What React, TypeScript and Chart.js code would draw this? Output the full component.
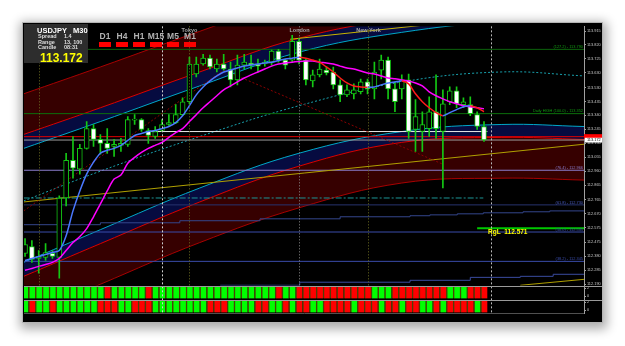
import React, { useEffect, useRef } from 'react';
import { Chart, registerables } from 'chart.js';

Chart.register(...registerables);

// ---------------- data ----------------
const symbol = 'USDJPY';
const timeframe = 'M30';
const infoLabels = ['Spread', 'Range', 'Candle'];
const infoValues = ['1.4', '13, 100', '08:31'];
const lastPrice = '113.172';
const tfNames = ['D1', 'H4', 'H1', 'M15', 'M5', 'M1'];

const opens = [
  112.399, 112.446, 112.365, 112.372, 112.399, 112.372, 112.777, 113.034, 112.973, 113.115,
  113.250, 113.176, 113.149, 113.129, 113.136, 113.142, 113.308, 113.311, 113.237, 113.196,
  113.237, 113.278, 113.291, 113.345, 113.433, 113.622, 113.690, 113.730, 113.656, 113.690,
  113.656, 113.582, 113.683, 113.697, 113.690, 113.690, 113.703, 113.778, 113.717, 113.717,
  113.845, 113.717, 113.575, 113.616, 113.649, 113.636, 113.548, 113.480, 113.487, 113.501,
  113.568, 113.521, 113.649, 113.717, 113.521, 113.521, 113.582, 113.244, 113.230, 113.250,
  113.365, 113.230, 113.433, 113.507, 113.413, 113.413, 113.345, 113.264,
];
const highs = [
  112.500, 112.487, 112.419, 112.466, 112.419, 112.791, 113.081, 113.196, 113.142, 113.298,
  113.278, 113.210, 113.250, 113.176, 113.183, 113.332, 113.345, 113.318, 113.250, 113.264,
  113.311, 113.345, 113.413, 113.460, 113.737, 113.737, 113.757, 113.751, 113.724, 113.757,
  113.703, 113.751, 113.757, 113.751, 113.724, 113.717, 113.785, 113.791, 113.724, 113.886,
  113.866, 113.724, 113.649, 113.724, 113.670, 113.670, 113.582, 113.548, 113.555, 113.588,
  113.588, 113.703, 113.751, 113.737, 113.568, 113.616, 113.622, 113.447, 113.365, 113.467,
  113.616, 113.514, 113.534, 113.534, 113.460, 113.467, 113.365, 113.298,
];
const lows = [
  112.378, 112.338, 112.264, 112.351, 112.365, 112.230, 112.723, 112.912, 112.940, 113.109,
  113.129, 113.075, 113.081, 113.061, 113.095, 113.129, 113.278, 113.230, 113.149, 113.183,
  113.230, 113.271, 113.284, 113.338, 113.419, 113.602, 113.683, 113.656, 113.636, 113.649,
  113.534, 113.548, 113.656, 113.656, 113.636, 113.676, 113.683, 113.703, 113.656, 113.703,
  113.690, 113.548, 113.534, 113.602, 113.616, 113.521, 113.433, 113.467, 113.453, 113.487,
  113.487, 113.453, 113.588, 113.453, 113.365, 113.453, 113.183, 113.095, 113.095, 113.196,
  113.183, 112.845, 113.413, 113.392, 113.392, 113.338, 113.244, 113.163,
];
const closes = [
  112.460, 112.358, 112.378, 112.405, 112.378, 112.777, 113.034, 112.980, 113.115, 113.250,
  113.176, 113.149, 113.115, 113.142, 113.149, 113.311, 113.315, 113.244, 113.203, 113.230,
  113.278, 113.291, 113.345, 113.433, 113.690, 113.690, 113.730, 113.670, 113.690, 113.656,
  113.582, 113.683, 113.703, 113.683, 113.676, 113.703, 113.778, 113.717, 113.683, 113.845,
  113.717, 113.582, 113.616, 113.656, 113.629, 113.548, 113.480, 113.514, 113.514, 113.568,
  113.521, 113.636, 113.717, 113.521, 113.433, 113.582, 113.230, 113.332, 113.278, 113.365,
  113.250, 113.419, 113.507, 113.419, 113.433, 113.352, 113.264, 113.172,
];

const fastMA = [
  112.351, 112.365, 112.378, 112.392, 112.406, 112.419, 112.520, 112.689, 112.825, 112.940,
  113.021, 113.082, 113.102, 113.115, 113.136, 113.169, 113.203, 113.217, 113.230, 113.237,
  113.250, 113.264, 113.291, 113.338, 113.406, 113.480, 113.534, 113.575, 113.609, 113.636,
  113.649, 113.663, 113.676, 113.683, 113.690, 113.697, 113.703, 113.714, 113.724, 113.730,
  113.737, 113.730, 113.717, 113.703, 113.670, 113.636, 113.595, 113.561, 113.541, 113.534,
  113.531, 113.534, 113.548, 113.561, 113.568, 113.575, 113.555, 113.487, 113.433, 113.392,
  113.359, 113.338, 113.359, 113.379, 113.399, 113.406, 113.392, 113.365,
];
const slowMA = [
  112.284, 112.297, 112.311, 112.324, 112.338, 112.365, 112.419, 112.473, 112.514, 112.568,
  112.649, 112.737, 112.825, 112.906, 112.933, 113.014, 113.054, 113.088, 113.115, 113.136,
  113.156, 113.190, 113.223, 113.250, 113.298, 113.345, 113.392, 113.433, 113.474, 113.514,
  113.541, 113.568, 113.595, 113.616, 113.636, 113.656, 113.676, 113.690, 113.697, 113.703,
  113.707, 113.710, 113.710, 113.703, 113.697, 113.690, 113.676, 113.663, 113.656, 113.643,
  113.629, 113.622, 113.609, 113.595, 113.589, 113.582, 113.575, 113.561, 113.541, 113.501,
  113.474, 113.453, 113.433, 113.420, 113.406, 113.399, 113.392, 113.386,
];

// 1 = green, 0 = red
const pane1State = [
  1, 1, 1, 1, 1, 1, 1, 1, 1, 1, 1, 1, 0, 1, 1, 1, 1, 1, 0, 1,
  1, 1, 1, 1, 1, 1, 1, 1, 1, 1, 1, 1, 1, 1, 1, 1, 1, 0, 1, 1,
  0, 0, 0, 0, 0, 0, 0, 0, 0, 0, 0, 1, 1, 1, 0, 0, 0, 0, 0, 0,
  0, 0, 1, 1, 1, 0, 0, 0,
];
const pane2State = [
  1, 0, 1, 1, 0, 1, 1, 1, 1, 1, 1, 0, 0, 0, 1, 1, 0, 0, 0, 1,
  1, 1, 1, 1, 1, 1, 1, 0, 0, 0, 1, 1, 1, 1, 0, 0, 1, 1, 0, 1,
  0, 0, 1, 1, 0, 0, 0, 0, 1, 0, 0, 0, 1, 0, 0, 1, 0, 0, 1, 1,
  0, 1, 0, 0, 0, 0, 1, 0,
];
const paneBarLow = -0.6;
const paneBarHigh = 2.4;
const paneTicks = [2, 0];

const timeTickIdx = [0, 4, 8, 12, 16, 20, 24, 28, 32, 36, 40, 44, 48, 52, 56, 60, 64];
const timeLabels = [
  '9 Feb 2017', '9 Feb 16:00', '9 Feb 18:00', '9 Feb 20:00', '9 Feb 22:00',
  '10 Feb 00:00', '10 Feb 02:00', '10 Feb 04:00', '10 Feb 06:00', '10 Feb 08:00',
  '10 Feb 10:00', '10 Feb 12:00', '10 Feb 14:00', '10 Feb 16:00', '10 Feb 18:00',
  '10 Feb 20:00', '10 Feb 22:00',
];
const priceTicks = [
  113.915, 113.820, 113.725, 113.630, 113.530, 113.435, 113.340, 113.245, 113.150, 113.055,
  112.960, 112.865, 112.765, 112.670, 112.575, 112.475, 112.380, 112.285, 112.190,
];

// regression channels (knots)
const chIdx = [-0.2, 11, 25.5, 40, 55, 69.5, 81.7];
const chA = [113.487, 113.670, 113.913, 114.143, 114.278, 114.346, 114.332];
const chB = [113.210, 113.392, 113.636, 113.866, 114.001, 114.068, 114.055];
const chC = [113.115, 113.298, 113.541, 113.771, 113.906, 113.974, 113.960];
const chM = [112.757, 112.960, 113.196, 113.406, 113.568, 113.636, 113.609];
const chD = [112.338, 112.561, 112.845, 113.082, 113.230, 113.278, 113.264];
const chE = [112.243, 112.466, 112.750, 112.994, 113.156, 113.190, 113.176];
const chF = [111.966, 112.189, 112.473, 112.710, 112.879, 112.912, 112.899];

// fibo levels
const fibLevels = [113.790, 113.352, 112.966, 112.730, 112.545, 112.345];
const fibLabels = [
  '(127.2) - 113.790', 'Daily HIGH (100.0) - 113.352', '(76.4) - 112.966',
  '(61.8) - 112.730', '(50.0) - 112.545', '(38.2) - 112.345',
];
const fibColors = ['#0c640c', '#0c6e0c', '#8a7ccc', '#27336e', '#3a4caa', '#3a4caa'];

const dayOpenLevel = 113.230;
const dayOpenRange = [18, 67.5];
const redLevel = 113.195;
const bidLevel = 113.172;
const tealLevel = 112.777;
const tealRange = [-0.2, 66.9];
const rglLevel = 112.571;
const rglRange = [66, 81.7];
const rglLabel = 'RgL  112.571';
const rglLabelIdx = 67.6;

const step1Idx = [-0.2, 11, 22.6, 34.3, 46, 56.2, 59.1, 63.1, 66.9, 72.7, 76.6, 81.7];
const step1Val = [112.595, 112.608, 112.622, 112.635, 112.649, 112.656, 112.662, 112.669, 112.676, 112.683, 112.689, 112.689];
const step2Idx = [28.5, 40.1, 56.2, 65, 72.3, 77.1, 81.7];
const step2Val = [112.182, 112.203, 112.216, 112.236, 112.243, 112.257, 112.257];
const yellowIdx = [-0.2, 81.7];
const yellowVal = [112.750, 113.144];
const yellowTopIdx = [38.7, 60.6];
const yellowTopVal = [113.859, 113.967];
const yellowBotIdx = [72.3, 81.7];
const yellowBotVal = [112.182, 112.223];
const zigIdx = [-0.2, 29, 61];
const zigVal = [112.689, 113.649, 113.007];

const sessionIdx = [2, 20, 24, 40, 50, 68];
const sessionNames = ['New York', '', 'Tokyo', 'London', 'New York', ''];
const sessionColors = ['#6e6e22', '#d0d0d0', '#6e6e22', '#8c8c8c', '#6e6e22', '#b8b8b8'];
const sessionDash = [[1, 2], [2, 2], [1, 2], [1, 2], [1, 2], [2, 2]];
const sessionFull = [false, true, false, false, false, true];

const X_MIN = -0.15;
const X_MAX = 81.6;
const Y_MIN = 112.179;
const Y_MAX = 113.947;
const PANE_MIN = -0.875;
const PANE_MAX = 2.625;
const FONT = '"Liberation Sans", Arial, sans-serif';

// ---------------- helpers ----------------
const candleGreen = '#14c814';
const maroon = '#360000';
const navy = '#060b40';
const idx = opens.map((_, i) => i);
const pts = (xs: number[], ys: number[]) => xs.map((x, k) => ({ x, y: ys[k] }));
const lineDs = (data: any[], color: string, extra: any = {}) => ({
  type: 'line',
  data,
  borderColor: color,
  borderWidth: 1,
  pointRadius: 0,
  fill: false,
  tension: 0,
  xAxisID: 'x',
  yAxisID: 'y',
  ...extra,
});
const hLine = (level: number, range: number[], color: string, extra: any = {}) =>
  lineDs(pts(range, [level, level]), color, extra);

const overlayPlugin = {
  id: 'mtOverlay',
  beforeDatasetDraw(chart: any, args: any) {
    const ds: any = chart.data.datasets[args.index];
    if (!ds.maskPanes) return;
    const { ctx, chartArea: a, scales } = chart;
    ctx.save();
    ctx.fillStyle = '#000000';
    ctx.fillRect(a.left, scales.y2.top, a.right - a.left, scales.y3.bottom - scales.y2.top);
    ctx.restore();
  },
  afterDatasetsDraw(chart: any) {
    const { ctx, chartArea: a, scales } = chart;
    const x = scales.x;
    const y = scales.y;
    ctx.save();
    sessionIdx.forEach((si, k) => {
      const px = Math.round(x.getPixelForValue(si)) + 0.5;
      ctx.strokeStyle = sessionColors[k];
      ctx.lineWidth = 1;
      ctx.setLineDash(sessionDash[k]);
      ctx.beginPath();
      ctx.moveTo(px, a.top);
      ctx.lineTo(px, sessionFull[k] ? a.bottom : y.bottom);
      ctx.stroke();
      if (sessionNames[k]) {
        ctx.setLineDash([]);
        ctx.fillStyle = '#a4a4a4';
        ctx.font = `bold 5.5px ${FONT}`;
        ctx.textAlign = 'center';
        ctx.textBaseline = 'top';
        ctx.fillText(sessionNames[k], px, a.top + 1.5);
      }
    });
    ctx.setLineDash([]);
    // fibo labels
    ctx.font = `3.9px ${FONT}`;
    ctx.textAlign = 'right';
    ctx.textBaseline = 'bottom';
    fibLevels.forEach((lv, k) => {
      ctx.fillStyle = k < 2 ? '#119a11' : fibColors[k] === '#27336e' ? '#4a5cc0' : fibColors[k];
      ctx.fillText(fibLabels[k], a.right - 1, y.getPixelForValue(lv) - 0.5);
    });
    // RgL label
    ctx.font = `bold 6.5px ${FONT}`;
    ctx.fillStyle = '#ffff00';
    ctx.textAlign = 'left';
    ctx.textBaseline = 'top';
    ctx.fillText(rglLabel, x.getPixelForValue(rglLabelIdx), y.getPixelForValue(rglLevel) + 1);
    ctx.restore();
  },
  afterDraw(chart: any) {
    const { ctx, chartArea: a, scales } = chart;
    const y = scales.y;
    ctx.save();
    ctx.strokeStyle = '#9a9a9a';
    ctx.lineWidth = 1;
    [y.bottom, scales.y2.bottom].forEach((yy: number) => {
      const py = Math.round(yy) + 0.5;
      ctx.beginPath();
      ctx.moveTo(a.left, py);
      ctx.lineTo(chart.width, py);
      ctx.stroke();
    });
    // price tags
    const yr = y.getPixelForValue(redLevel);
    ctx.fillStyle = '#ff0000';
    ctx.fillRect(a.right, yr - 2.5, chart.width - a.right, 4.5);
    const yb = y.getPixelForValue(bidLevel);
    ctx.fillStyle = '#ffffff';
    ctx.fillRect(a.right + 1, yb - 2.3, chart.width - a.right - 1, 4.8);
    ctx.fillStyle = '#000000';
    ctx.font = `3.9px ${FONT}`;
    ctx.textAlign = 'left';
    ctx.textBaseline = 'middle';
    ctx.fillText(lastPrice, a.right + 3, yb + 0.2);
    ctx.restore();
  },
};

export default function App() {
  const ref = useRef<HTMLCanvasElement>(null);

  useEffect(() => {
    if (!ref.current) return;
    Chart.defaults.font.family = FONT;
    const datasets: any[] = [
      // channels
      lineDs(pts(chIdx, chA), '#a80000', { fill: '+1', backgroundColor: maroon, tension: 0.4, order: 100 }),
      lineDs(pts(chIdx, chB), '#dc0000', { fill: '+1', backgroundColor: navy, tension: 0.4, order: 99 }),
      lineDs(pts(chIdx, chC), '#00a8c8', { tension: 0.4, order: 98 }),
      lineDs(pts(chIdx, chM), '#18a0ac', { tension: 0.4, borderDash: [2, 2], order: 97 }),
      lineDs(pts(chIdx, chD), '#00a8c8', { fill: '+1', backgroundColor: navy, tension: 0.4, order: 96 }),
      lineDs(pts(chIdx, chE), '#dc0000', { fill: '+1', backgroundColor: maroon, tension: 0.4, order: 95 }),
      lineDs(pts(chIdx, chF), '#a80000', { tension: 0.4, order: 94 }),
      // fibo + levels
      ...fibLevels.map((lv, k) => hLine(lv, [X_MIN - 0.1, X_MAX + 0.1], fibColors[k], { order: 80 - k })),
      hLine(dayOpenLevel, dayOpenRange, '#e8e8e8', { order: 70 }),
      hLine(redLevel, [X_MIN - 0.1, X_MAX + 0.1], '#e00000', { order: 69 }),
      hLine(bidLevel, [X_MIN - 0.1, X_MAX + 0.1], '#9c9c9c', { order: 68 }),
      hLine(tealLevel, tealRange, '#1c9494', { borderDash: [6, 2, 2, 2], order: 67 }),
      hLine(rglLevel, rglRange, '#00c800', { borderWidth: 2, order: 66 }),
      lineDs(pts(step1Idx, step1Val), '#34468c', { stepped: true, order: 65 }),
      lineDs(pts(step2Idx, step2Val), '#3a4ca0', { stepped: true, order: 64 }),
      lineDs(pts(yellowIdx, yellowVal), '#b0a000', { order: 63 }),
      lineDs(pts(yellowTopIdx, yellowTopVal), '#c8b400', { order: 62 }),
      lineDs(pts(yellowBotIdx, yellowBotVal), '#b0a000', { order: 61 }),
      lineDs(pts(zigIdx, zigVal), '#8a0000', { borderDash: [2, 2], order: 60 }),
      // candles
      {
        type: 'bar',
        data: idx.map((i) => ({ x: i, y: [lows[i], highs[i]] })),
        backgroundColor: candleGreen,
        barThickness: 1,
        grouped: false,
        xAxisID: 'x',
        yAxisID: 'y',
        order: 31,
      },
      {
        type: 'bar',
        data: idx.map((i) => ({ x: i, y: [opens[i], closes[i]] })),
        backgroundColor: idx.map((i) => (closes[i] >= opens[i] ? '#000000' : '#ffffff')),
        borderColor: candleGreen,
        borderWidth: 1,
        borderSkipped: false,
        barThickness: 5,
        grouped: false,
        xAxisID: 'x',
        yAxisID: 'y',
        order: 30,
      },
      // moving averages
      lineDs(pts(idx, slowMA), '#ff00ff', { borderWidth: 1.5, tension: 0.3, order: 21 }),
      lineDs(pts(idx, fastMA), '#4a78ff', {
        borderWidth: 1.5,
        tension: 0.3,
        order: 20,
        segment: {
          borderColor: (c: any) => (c.p1.parsed.y >= c.p0.parsed.y ? '#4a78ff' : '#ff1a1a'),
        },
      }),
      // indicator panes
      {
        type: 'bar',
        data: idx.map((i) => ({ x: i, y: [paneBarLow, paneBarHigh] })),
        backgroundColor: pane1State.map((s) => (s ? '#00ff00' : '#ff0000')),
        borderColor: '#4e4006',
        borderWidth: { left: 1.5, right: 0, top: 0, bottom: 0 },
        borderSkipped: false,
        barThickness: 6.85,
        grouped: false,
        xAxisID: 'x',
        yAxisID: 'y2',
        order: 2,
        maskPanes: true,
      },
      {
        type: 'bar',
        data: idx.map((i) => ({ x: i, y: [paneBarLow, paneBarHigh] })),
        backgroundColor: pane2State.map((s) => (s ? '#00ff00' : '#ff0000')),
        borderColor: '#4e4006',
        borderWidth: { left: 1.5, right: 0, top: 0, bottom: 0 },
        borderSkipped: false,
        barThickness: 6.85,
        grouped: false,
        xAxisID: 'x',
        yAxisID: 'y3',
        order: 1,
      },
    ];

    const paneAxis = (weight: number) => ({
      type: 'linear',
      position: 'right',
      stack: 'panes',
      stackWeight: weight,
      min: PANE_MIN,
      max: PANE_MAX,
      grid: { display: true, drawOnChartArea: false, drawTicks: true, tickLength: 2, color: '#a0a0a0' },
      border: { display: true, color: '#a0a0a0' },
      afterFit: (s: any) => { s.width = 18; },
      afterBuildTicks: (s: any) => { s.ticks = paneTicks.map((v) => ({ value: v })); },
      ticks: { autoSkip: false, padding: 1, color: '#c8c8c8', font: { size: 3.9, family: FONT }, callback: (v: any) => String(v) },
    });

    const chart = new Chart(ref.current, {
      type: 'bar',
      data: { datasets },
      plugins: [overlayPlugin],
      options: {
        animation: false,
        responsive: false,
        events: [],
        layout: { padding: { left: 1, top: 1, right: 0, bottom: 0 } },
        elements: { point: { radius: 0 } },
        plugins: { legend: { display: false }, tooltip: { enabled: false } },
        scales: {
          x: {
            type: 'linear',
            position: 'bottom',
            min: X_MIN,
            max: X_MAX,
            offset: false,
            grid: { display: false },
            border: { display: true, color: '#a0a0a0' },
            afterFit: (s: any) => { s.height = 8.5; },
            afterBuildTicks: (s: any) => { s.ticks = timeTickIdx.map((v) => ({ value: v })); },
            ticks: {
              autoSkip: false,
              maxRotation: 0,
              minRotation: 0,
              align: 'start',
              padding: 1.5,
              color: '#d0d0d0',
              font: { size: 4, family: FONT },
              callback: (v: any) => timeLabels[timeTickIdx.indexOf(v)] ?? '',
            },
          },
          y: {
            type: 'linear',
            position: 'right',
            stack: 'panes',
            stackWeight: 261.5,
            min: Y_MIN,
            max: Y_MAX,
            grid: { display: true, drawOnChartArea: false, drawTicks: true, tickLength: 2, color: '#a0a0a0' },
            border: { display: true, color: '#a0a0a0' },
            afterFit: (s: any) => { s.width = 18; },
            afterBuildTicks: (s: any) => { s.ticks = priceTicks.map((v) => ({ value: v })); },
            ticks: {
              autoSkip: false,
              padding: 1,
              color: '#c8c8c8',
              font: { size: 3.9, family: FONT },
              callback: (v: any) => Number(v).toFixed(3),
            },
          },
          y2: paneAxis(14),
          y3: paneAxis(14),
        },
      } as any,
    } as any);
    return () => chart.destroy();
  }, []);

  const txt = (extra: React.CSSProperties): React.CSSProperties => ({
    position: 'absolute',
    fontFamily: FONT,
    whiteSpace: 'pre',
    ...extra,
  });

  return (
    <div style={{ position: 'absolute', left: 0, top: 0, width: 625, height: 346, background: '#ffffff', overflow: 'hidden' }}>
      <div
        style={{
          position: 'absolute',
          left: 22,
          top: 22,
          width: 579,
          height: 299,
          border: '1px solid #b4b4b4',
          background: '#000000',
          boxShadow: '1px 3px 10px 3px rgba(0,0,0,0.33)',
        }}
      >
        <canvas ref={ref} width={579} height={299} style={{ display: 'block', width: 579, height: 299 }} />
        {/* info box */}
        <div style={{ position: 'absolute', left: 1, top: 1, width: 64, height: 39, background: '#2d2d2d' }} />
        <div style={txt({ left: 14, top: 4, fontSize: 7.5, lineHeight: '7.5px', fontWeight: 700, color: '#ffffff' })}>{symbol}</div>
        <div style={txt({ left: 50, top: 4, fontSize: 7.5, lineHeight: '7.5px', fontWeight: 700, color: '#ffffff' })}>{timeframe}</div>
        {infoLabels.map((l, k) => (
          <React.Fragment key={l}>
            <div style={txt({ left: 15, top: 10.6 + k * 5.9, fontSize: 5.5, lineHeight: '5.5px', fontWeight: 700, color: '#dcdcdc' })}>{l}</div>
            <div style={txt({ left: 41, top: 10.6 + k * 5.9, fontSize: 5.5, lineHeight: '5.5px', fontWeight: 700, color: '#dcdcdc' })}>{infoValues[k]}</div>
          </React.Fragment>
        ))}
        <div style={txt({ left: 17, top: 29, fontSize: 12, lineHeight: '12px', fontWeight: 700, color: '#ffff00' })}>{lastPrice}</div>
        {/* timeframe panel */}
        {tfNames.map((n, k) => (
          <React.Fragment key={n}>
            <div
              style={txt({
                left: 76 + k * 17 - 3,
                width: 18,
                textAlign: 'center',
                top: 9.2,
                fontSize: 8.5,
                lineHeight: '8.5px',
                fontWeight: 700,
                color: '#b2b2b2',
              })}
            >
              {n}
            </div>
            <div style={{ position: 'absolute', left: 76 + k * 17, top: 18.7, width: 12, height: 5.5, background: '#ff0000' }} />
          </React.Fragment>
        ))}
      </div>
    </div>
  );
}
